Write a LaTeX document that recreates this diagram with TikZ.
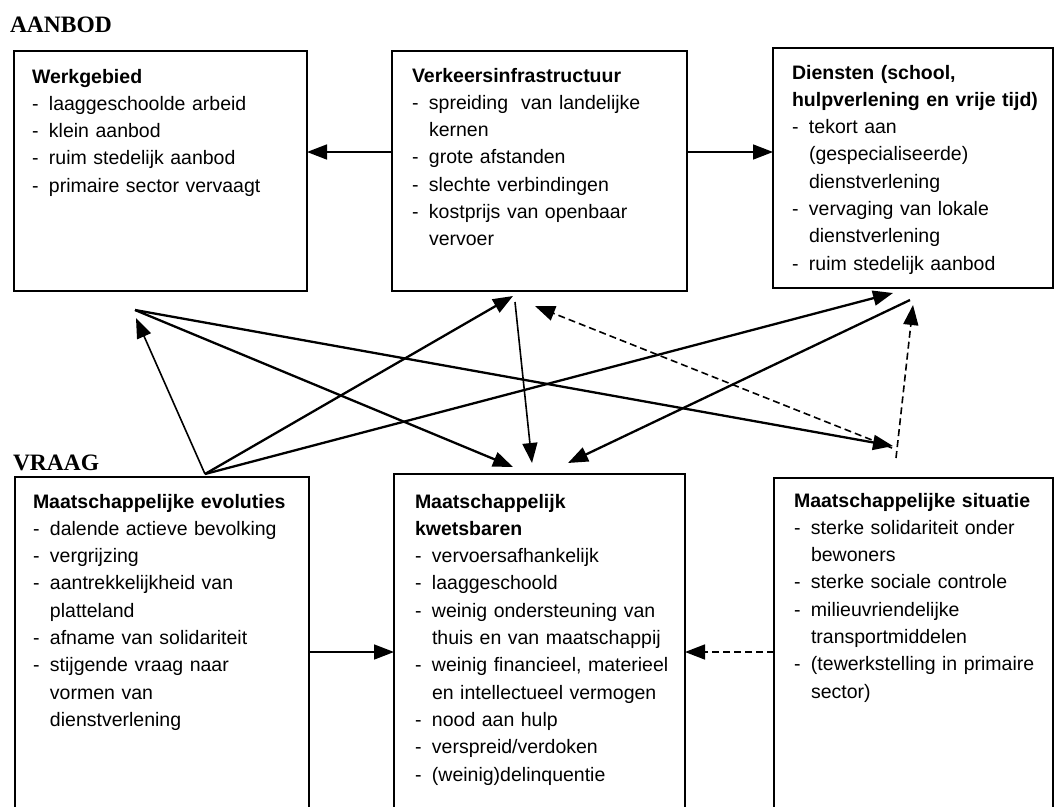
\documentclass[tikz,border=0pt]{standalone}
\usepackage{fontspec}
\setmainfont{Liberation Sans}
\newfontfamily\titlefont{Liberation Serif}
\usetikzlibrary{arrows.meta}

\newcommand{\itm}{\makebox[17pt][l]{-}}
\newcommand{\cnt}{\hspace*{17pt}}

\begin{document}
\begin{tikzpicture}[x=1pt, y=-1pt, outer sep=0pt]

\tikzstyle{box}=[draw, line width=1.8pt, rectangle, anchor=north west, inner sep=0pt]
\tikzstyle{txt}=[anchor=base west, inner sep=0pt, text width=270pt, align=left, font=\fontsize{19.5}{27.3}\selectfont]
\tikzstyle{ttl}=[anchor=base west, inner sep=0pt, font=\titlefont\bfseries\fontsize{23.5}{26}\selectfont]
\tikzstyle{arr}=[line width=2.3pt, -{Triangle[length=20pt,width=15pt]}]
\tikzstyle{darr}=[arr, line width=1.6pt, dash pattern=on 7pt off 4pt]

\useasboundingbox[fill=white] (0,0) rectangle (1060,806);
\clip (0,0) rectangle (1060,806);

\node[ttl] (aanbod) at (10,32) {AANBOD};
\node[ttl] (vraag) at (13,470) {VRAAG};

\node[box, minimum width=293pt, minimum height=240pt] (wg) at (14,51) {};
\node[box, minimum width=295pt, minimum height=240pt] (vk) at (392,51) {};
\node[box, minimum width=280pt, minimum height=240pt] (dn) at (773,48) {};
\node[box, minimum width=294pt, minimum height=360pt] (ev) at (15,477) {};
\node[box, minimum width=291pt, minimum height=360pt] (kw) at (394,474) {};
\node[box, minimum width=279pt, minimum height=360pt] (st) at (774,478) {};

\node[txt] (wgtxt) at (32,83) {\textbf{Werkgebied}\\
\itm laaggeschoolde arbeid\\
\itm klein aanbod\\
\itm ruim stedelijk aanbod\\
\itm primaire sector vervaagt};
\node[txt] (vktxt) at (412,82) {\textbf{Verkeersinfrastructuur}\\
\itm spreiding~ van landelijke\\
\cnt kernen\\
\itm grote afstanden\\
\itm slechte verbindingen\\
\itm kostprijs van openbaar\\
\cnt vervoer};
\node[txt] (dntxt) at (792,79) {\textbf{Diensten (school,}\\
\textbf{hulpverlening en vrije tijd)}\\
\itm tekort aan\\
\cnt (gespecialiseerde)\\
\cnt dienstverlening\\
\itm vervaging van lokale\\
\cnt dienstverlening\\
\itm ruim stedelijk aanbod};
\node[txt] (evtxt) at (33,508) {\textbf{Maatschappelijke evoluties}\\
\itm dalende actieve bevolking\\
\itm vergrijzing\\
\itm aantrekkelijkheid van\\
\cnt platteland\\
\itm afname van solidariteit\\
\itm stijgende vraag naar\\
\cnt vormen van\\
\cnt dienstverlening};
\node[txt] (kwtxt) at (415,508) {\textbf{Maatschappelijk}\\
\textbf{kwetsbaren}\\
\itm vervoersafhankelijk\\
\itm laaggeschoold\\
\itm weinig ondersteuning van\\
\cnt thuis en van maatschappij\\
\itm weinig financieel, materieel\\
\cnt en intellectueel vermogen\\
\itm nood aan hulp\\
\itm verspreid/verdoken\\
\itm (weinig)delinquentie};
\node[txt] (sttxt) at (794,507) {\textbf{Maatschappelijke situatie}\\
\itm sterke solidariteit onder\\
\cnt bewoners\\
\itm sterke sociale controle\\
\itm milieuvriendelijke\\
\cnt transportmiddelen\\
\itm (tewerkstelling in primaire\\
\cnt sector)};

\coordinate (wgout) at (135,310);
\coordinate (wgin) at (136,318);
\coordinate (evout) at (205,474);
\coordinate (vkout) at (515,302);
\coordinate (vkin) at (513,296);
\coordinate (vkdin) at (535,306);
\coordinate (dnin) at (893,293);
\coordinate (dnout) at (910,300);
\coordinate (dndin) at (913,305);
\coordinate (kwin1) at (513,467);
\coordinate (kwin2) at (532,463);
\coordinate (kwin3) at (568,463);
\coordinate (stin) at (893,446);
\coordinate (stout1) at (892,448);
\coordinate (stout2) at (896,458);

\draw[arr, line width=1.6pt] ([yshift=19pt]vk.west) -- ([yshift=19pt]vk.west -| wg.east);
\draw[arr, line width=1.6pt] ([yshift=19pt]vk.east) -- ([yshift=19pt]vk.east -| dn.west);
\draw[arr, line width=1.6pt] ([yshift=5pt]ev.east) -- ([yshift=5pt]ev.east -| kw.west);
\draw[darr] ([yshift=5pt]ev.east -| st.west) -- ([yshift=5pt]ev.east -| kw.east);

\draw[arr] (wgout) -- (kwin1);
\draw[arr] (wgout) -- (stin);
\draw[arr, line width=1.6pt] (evout) -- (wgin);
\draw[arr] (evout) -- (vkin);
\draw[arr] (evout) -- (dnin);
\draw[arr, line width=1.6pt] (vkout) -- (kwin2);
\draw[arr] (dnout) -- (kwin3);
\draw[darr] (stout1) -- (vkdin);
\draw[darr] (stout2) -- (dndin);
\end{tikzpicture}
\end{document}
